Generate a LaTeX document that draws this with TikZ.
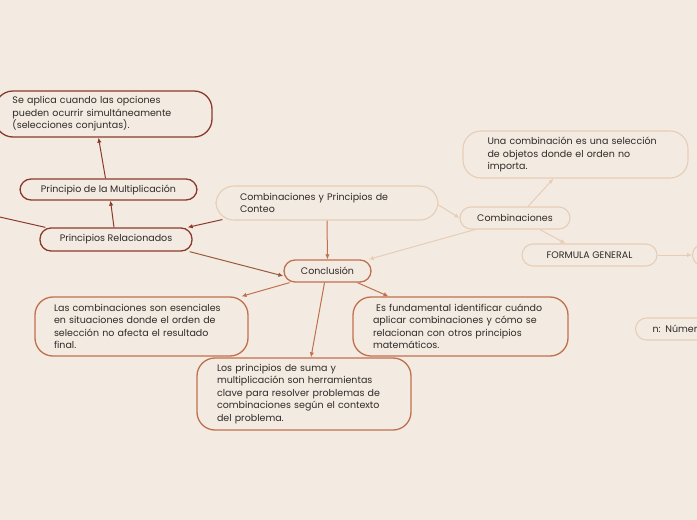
\documentclass[tikz,border=0pt]{standalone}
\usepackage{fontspec}
\setmainfont{Poppins}
\usetikzlibrary{arrows.meta}
\definecolor{MMBack}{HTML}{F3EBE2}
\definecolor{MMDark}{HTML}{8C3B2B}
\definecolor{MMRust}{HTML}{C0704E}
\definecolor{MMMid}{HTML}{9A5A3C}
\definecolor{MMLight}{HTML}{E8CDB5}
\definecolor{MMInk}{HTML}{2E2A28}
\tikzset{
  link/.style={-{Latex[length=5pt,width=4.5pt]},line width=1pt},
  linkdark/.style={link,MMDark},
  linkrust/.style={link,MMRust},
  linkmid/.style={link,MMMid},
  linklight/.style={link,MMLight},
  topic/.style={draw=MMDark,line width=1.3pt,fill=MMBack,rounded corners=11pt,
                text=MMInk,font=\fontsize{9.5}{12.5}\selectfont,inner sep=0pt,align=center},
  topicrust/.style={topic,draw=MMRust},
  topiclight/.style={topic,draw=MMLight,line width=1.1pt},
  note/.style={topic,rounded corners=18pt,align=left},
  noterust/.style={note,draw=MMRust},
  notelight/.style={note,draw=MMLight,line width=1.1pt},
}
\begin{document}
\begin{tikzpicture}[x=1pt,y=-1pt]
  \clip (0,0) rectangle (697,520);
  \fill[MMBack] (0,0) rectangle (697,520);
  % left branch
  \node[note,minimum width=217pt,minimum height=46pt,text width=182pt] (aplica) at (103.5,114)
    {Se aplica cuando las opciones\\pueden ocurrir simultáneamente\\(selecciones conjuntas).};
  \node[topic,minimum width=177pt,minimum height=21pt] (mult) at (108.5,189.5) {Principio de la Multiplicación};
  \node[topic,minimum width=152pt,minimum height=23pt] (relac) at (116,239.5) {Principios Relacionados};
  \coordinate (offleft) at (-40,208);
  % centre
  \node[topiclight,rounded corners=18pt,align=left,minimum width=222pt,minimum height=34pt,
        text width=174pt] (tema) at (327,203) {Combinaciones y Principios de\\Conteo};
  \node[topicrust,minimum width=87pt,minimum height=22pt] (concl) at (327.5,271) {Conclusión};
  \node[noterust,minimum width=213pt,minimum height=59pt,text width=175pt] (esenc) at (141.5,326.5)
    {Las combinaciones son esenciales\\en situaciones donde el orden de\\selección no afecta el resultado\\final.};
  \node[noterust,minimum width=214pt,minimum height=72pt,text width=174pt] (suma) at (304,394)
    {Los principios de suma y\\multiplicación son herramientas\\clave para resolver problemas de\\combinaciones según el contexto\\del problema.};
  \node[noterust,minimum width=215pt,minimum height=59pt,text width=175pt] (fund) at (460.5,326.5)
    {\ Es fundamental identificar cuándo\\aplicar combinaciones y cómo se\\relacionan con otros principios\\matemáticos.};
  % right branch
  \node[notelight,minimum width=225pt,minimum height=47pt,text width=176pt] (defin) at (575.5,154.5)
    {Una combinación es una selección\\de objetos donde el orden no\\importa.};
  \node[topiclight,minimum width=110pt,minimum height=22pt] (comb) at (515,218) {Combinaciones};
  \node[topiclight,minimum width=135pt,minimum height=22pt] (formula) at (589.5,255) {FORMULA GENERAL};
  \node[topiclight,anchor=west,minimum width=100pt,minimum height=22pt] (formx) at (692,255) {};
  \node[topiclight,anchor=west,align=left,minimum width=120pt,minimum height=22pt,
        text width=86pt] (numer) at (635,329) {n: Número total};
  % connectors
  \draw[linkdark] (mult.north) ++(-3,0) -- ([xshift=-5pt]aplica.south);
  \draw[linkdark] ([xshift=-2pt]relac.north) -- ([xshift=2pt]mult.south);
  \draw[linkdark] ([xshift=7pt,yshift=1pt]tema.south west) -- ([xshift=-5pt]relac.north east);
  \draw[linkdark] ([xshift=6pt]relac.north west) -- (offleft);
  \draw[linkmid] ([xshift=-3pt]relac.south east) -- ([yshift=-5pt]concl.west);
  \draw[linkrust] (tema.south) -- (concl.north);
  \draw[linklight] ([xshift=-40pt]comb.south) -- ([xshift=-3pt]concl.north east);
  \draw[linklight] ([yshift=-2pt]tema.east) -- (comb.west);
  \draw[linklight] ([xshift=13pt]comb.north) -- ([xshift=-22pt]defin.south);
  \draw[linklight] ([xshift=25pt]comb.south) -- ([xshift=-24pt]formula.north);
  \draw[linklight] (formula.east) -- (formx.west);
  \draw[linkrust] ([xshift=-38pt]concl.south) -- ([xshift=100pt]esenc.north);
  \draw[linkrust] ([xshift=-3pt]concl.south) -- ([xshift=7pt]suma.north);
  \draw[linkrust] ([xshift=30pt]concl.south) -- ([xshift=-72pt]fund.north);
\end{tikzpicture}
\end{document}
